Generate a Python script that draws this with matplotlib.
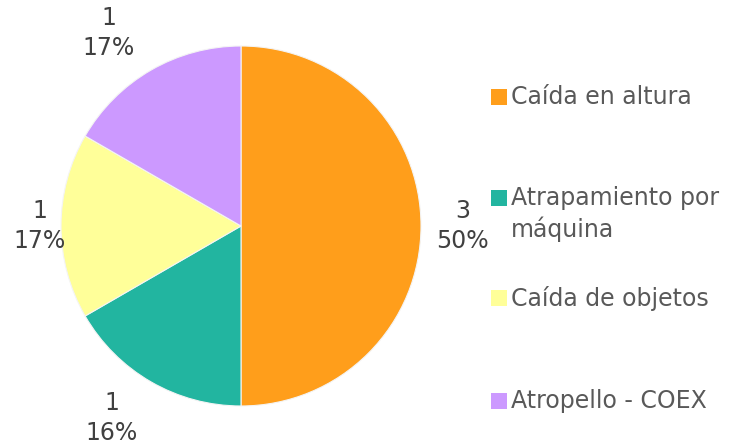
import numpy as np
import matplotlib.pyplot as plt
from matplotlib.patches import Rectangle

categories = ["Caída en altura", "Atrapamiento por\nmáquina", "Caída de objetos", "Atropello - COEX"]
values = [3, 1, 1, 1]
pct_labels = ["50%", "16%", "17%", "17%"]
colors = ["#FF9E1B", "#22B5A0", "#FFFF99", "#CC99FF"]

plt.rcParams["font.family"] = ["Verdana", "DejaVu Sans"]

fig = plt.figure(figsize=(7.29, 4.44), dpi=100)
ax = fig.add_axes([0.0837, 0.0856, 0.4938, 0.8108])

wedges, _ = ax.pie(values, colors=colors, startangle=90, counterclock=False,
                   radius=1.0, wedgeprops=dict(edgecolor="#f4f4f4", linewidth=0.8))
ax.set_xlim(-1, 1)
ax.set_ylim(-1, 1)
ax.set_aspect("equal")

# label distance / angle tweak per slice (Excel "outside end" placement)
label_dist = [1.23, 1.285, 1.12, 1.30]
angle_shift = [0, -3.9, 0, 4.5]
for w, v, p, d, s in zip(wedges, values, pct_labels, label_dist, angle_shift):
    ang = np.deg2rad((w.theta1 + w.theta2) / 2 + s)
    ax.text(d * np.cos(ang), d * np.sin(ang), f"{v}\n{p}", ha="center", va="center",
            fontsize=17, color="#404040", linespacing=1.3, clip_on=False)

# legend drawn by hand to match the wide spacing
legend_y = [97, 198, 298, 401]
for name, c, y in zip(categories, colors, legend_y):
    yf = 1 - y / 444
    fig.add_artist(Rectangle((491 / 729, yf - 8 / 444), 16 / 729, 16 / 444,
                             transform=fig.transFigure, facecolor=c, edgecolor="none"))
    fig.text(511 / 729, yf + 12 / 444, name, ha="left", va="top", fontsize=17,
             color="#595959", linespacing=1.3)

fig.savefig("out.png", dpi=100)
